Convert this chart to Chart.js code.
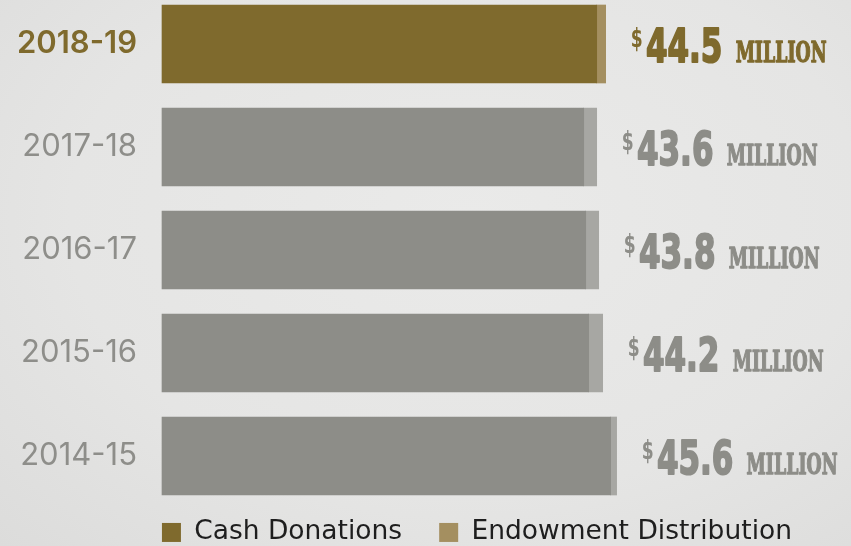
<!DOCTYPE html>
<html>
<head>
<meta charset="utf-8">
<script src="https://cdn.jsdelivr.net/npm/chart.js@4"></script>
<style>
  html, body { margin: 0; padding: 0; }
  body {
    width: 851px; height: 546px; overflow: hidden;
    background: radial-gradient(ellipse at 55% 40%, #eaeae9 0%, #e5e5e4 60%, #dcdcdb 100%);
  }
  #wrap { position: relative; width: 851px; height: 546px; }
</style>
</head>
<body>
<div id="wrap"><canvas id="c" width="851" height="546"></canvas></div>
<script>
// ---- data ----
const years = ['2018-19', '2017-18', '2016-17', '2015-16', '2014-15'];
const cashDonations = [43.6, 42.3, 42.5, 42.8, 45.0];
const endowmentDistribution = [0.9, 1.3, 1.3, 1.4, 0.6];
const totalLabels = ['44.5', '43.6', '43.8', '44.2', '45.6'];
const seriesNames = ['Cash Donations', 'Endowment Distribution'];

// ---- styles ----
const GOLD = '#7f6a2d', GOLD_LIGHT = '#a48f60';
const GREY = '#8d8d88', GREY_LIGHT = '#a7a7a3';
const cashColors = years.map((_, i) => i === 0 ? GOLD : GREY);
const endowColors = years.map((_, i) => i === 0 ? GOLD_LIGHT : GREY_LIGHT);

const valueLabels = {
  id: 'valueLabels',
  afterDatasetsDraw(chart) {
    const ctx = chart.ctx;
    const meta = chart.getDatasetMeta(1);
    meta.data.forEach((bar, i) => {
      const color = i === 0 ? GOLD : GREY;
      const base = bar.y + 18; // baseline
      const x = bar.x + 25;
      ctx.save();
      ctx.fillStyle = color;
      ctx.strokeStyle = color;
      ctx.lineJoin = 'round';
      ctx.textBaseline = 'alphabetic';
      ctx.textAlign = 'left';
      ctx.translate(x, base);
      ctx.scale(0.66, 1);
      let cx = 0;
      ctx.font = 'bold 26px "DejaVu Sans"';
      ctx.fillText('$', cx, -15);
      cx += ctx.measureText('$').width + 5;
      ctx.font = 'bold 47px "DejaVu Sans"';
      ctx.lineWidth = 2;
      ctx.fillText(totalLabels[i], cx, 0);
      ctx.strokeText(totalLabels[i], cx, 0);
      cx += ctx.measureText(totalLabels[i]).width + 20;
      ctx.scale(0.94, 1);
      ctx.font = 'bold 28px "DejaVu Serif"';
      ctx.lineWidth = 1.4;
      ctx.fillText('MILLION', cx / 0.94, 0);
      ctx.strokeText('MILLION', cx / 0.94, 0);
      ctx.restore();
    });
  }
};

new Chart(document.getElementById('c'), {
  type: 'bar',
  data: {
    labels: years,
    datasets: [
      { label: seriesNames[0], data: cashDonations, backgroundColor: cashColors, barThickness: 78, clip: false },
      { label: seriesNames[1], data: endowmentDistribution, backgroundColor: endowColors, barThickness: 78, clip: false }
    ]
  },
  options: {
    indexAxis: 'y',
    responsive: false,
    animation: false,
    events: [],
    layout: { padding: { left: 0, right: 22, top: 44, bottom: 0 } },
    scales: {
      x: { stacked: true, display: false, min: 0, max: 66.9 },
      y: {
        stacked: true,
        offset: false,
        grid: { display: false, drawTicks: false },
        border: { display: false },
        afterFit(scale) { scale.width = 162; },
        ticks: {
          padding: 25,
          color: (c) => c.index === 0 ? GOLD : '#8e8e8a',
          font: (c) => ({ family: 'Inter', size: 31, weight: c.index === 0 ? '600' : '400' })
        }
      }
    },
    plugins: {
      tooltip: { enabled: false },
      legend: {
        position: 'bottom',
        align: 'end',
        maxHeight: 90,
        title: { display: true, text: ' ', font: { size: 1 }, padding: { top: 25, bottom: 0 } },
        labels: {
          boxWidth: 19, boxHeight: 19, padding: 37,
          color: '#1e1e1e',
          font: { family: 'DejaVu Sans', size: 26.5 }
        }
      }
    }
  },
  plugins: [valueLabels]
});
</script>
</body>
</html>
